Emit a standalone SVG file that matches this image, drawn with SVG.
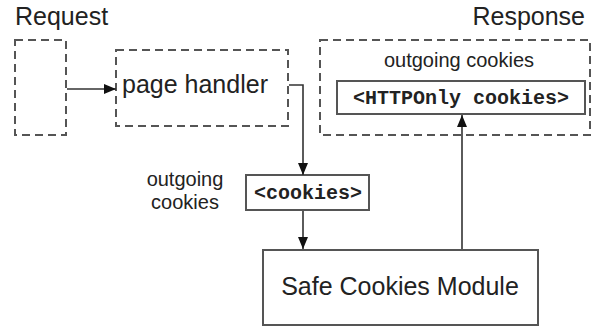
<svg xmlns="http://www.w3.org/2000/svg" width="592" height="329" viewBox="0 0 592 329">
  <style>
    .bg { fill: #ffffff; }
    .dashed { fill: none; stroke: #555555; stroke-width: 2; stroke-dasharray: 8 5; }
    .solid { fill: #ffffff; stroke: #555555; stroke-width: 2; }
    .edge { fill: none; stroke: #333333; stroke-width: 1.6; }
    .sans { font-family: "Liberation Sans", Arial, sans-serif; fill: #222222; }
    .big { font-size: 25px; }
    .small { font-size: 20px; }
    .mono { font-family: "Liberation Mono", "Courier New", monospace; font-weight: bold; font-size: 20px; fill: #222222; }
  </style>
  <defs>
    <marker id="arrow" viewBox="0 0 12 10" refX="12" refY="5" markerWidth="12" markerHeight="10" markerUnits="userSpaceOnUse" orient="auto">
      <path d="M0,0 L12,5 L0,10 Z" fill="#111111"/>
    </marker>
  </defs>
  <rect class="bg" x="0" y="0" width="592" height="329"/>

  <g id="request">
    <text class="sans big" x="15" y="25">Request</text>
    <rect class="dashed" x="15" y="40" width="51" height="95"/>
  </g>

  <g id="page-handler">
    <rect class="dashed" x="116" y="50" width="172" height="76"/>
    <text class="sans big" x="122" y="93">page handler</text>
  </g>

  <g id="response">
    <text class="sans big" x="585" y="25" text-anchor="end">Response</text>
    <rect class="dashed" x="320" y="40" width="270" height="95"/>
    <text class="sans small" x="459" y="67" text-anchor="middle">outgoing cookies</text>
  </g>

  <g id="httponly-cookies">
    <rect class="solid" x="337" y="81" width="248" height="33"/>
    <text class="mono" x="461" y="104" text-anchor="middle">&lt;HTTPOnly cookies&gt;</text>
  </g>

  <g id="cookies">
    <text class="sans small" x="185" y="186" text-anchor="middle">outgoing</text>
    <text class="sans small" x="185" y="209" text-anchor="middle">cookies</text>
    <rect class="solid" x="246" y="175" width="123" height="35"/>
    <text class="mono" x="308" y="199" text-anchor="middle">&lt;cookies&gt;</text>
  </g>

  <g id="safe-cookies-module">
    <rect class="solid" x="263" y="250" width="275" height="75"/>
    <text class="sans big" x="400" y="295" text-anchor="middle">Safe Cookies Module</text>
  </g>

  <g id="connectors">
    <path class="edge" d="M67,89 L116,89" marker-end="url(#arrow)"/>
    <path class="edge" d="M289,85 L303,85 L303,175" marker-end="url(#arrow)"/>
    <path class="edge" d="M303,211 L303,249" marker-end="url(#arrow)"/>
    <path class="edge" d="M462,249 L462,115" marker-end="url(#arrow)"/>
  </g>
</svg>
